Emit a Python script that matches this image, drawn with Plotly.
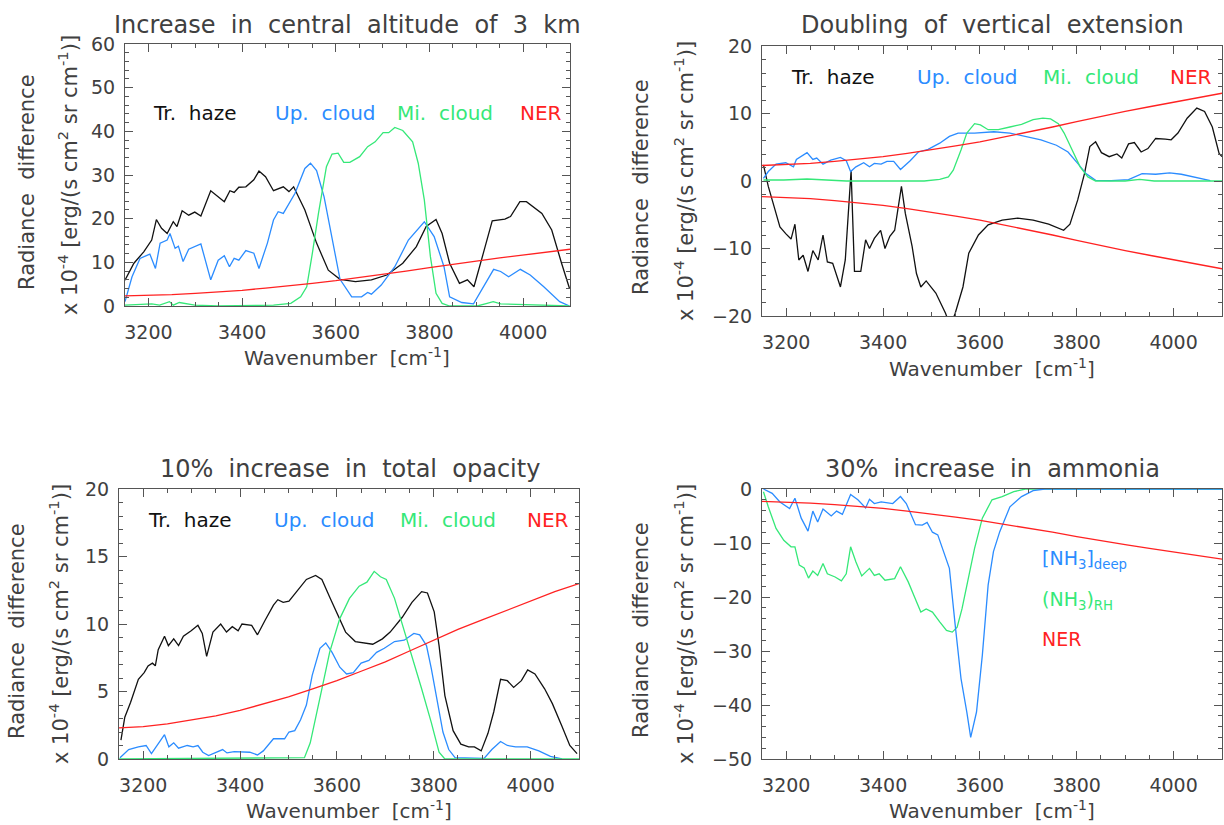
import plotly.graph_objects as go

W, H = 1224, 825
FONT = "DejaVu Sans"
TXT = "#404040"
AX = "#555555"
BLACK = "#111111"
BLUE = "#2b8cff"
GREEN = "#35e878"
RED = "#ff2222"

# ---------------- data ----------------
ner_x = [3150, 3200, 3250, 3300, 3350, 3400, 3450, 3500, 3550, 3600,
         3650, 3700, 3750, 3800, 3850, 3900, 3950, 4000, 4050, 4100]
ner_y = [2.3, 2.4, 2.6, 2.9, 3.2, 3.6, 4.1, 4.6, 5.2, 5.8,
         6.5, 7.2, 8.0, 8.8, 9.6, 10.3, 11.0, 11.7, 12.4, 13.0]

# Panel 1: increase in central altitude of 3 km
p1_haze = [[3150, 5.9], [3169, 9.8], [3190, 12.4], [3207, 15.1], [3217, 19.8], [3228, 17.8],
           [3240, 16.6], [3253, 19.3], [3261, 18.2], [3272, 21.8], [3286, 20.8], [3299, 21.5],
           [3312, 20.6], [3333, 26.4], [3362, 23.9], [3374, 26.4], [3383, 26.0], [3393, 27.2],
           [3408, 27.3], [3425, 28.9], [3436, 30.9], [3450, 29.6], [3467, 26.4], [3488, 27.3],
           [3500, 26.2], [3510, 27.3], [3534, 22.0], [3559, 14.4], [3584, 8.2], [3609, 6.1],
           [3642, 5.6], [3676, 6.0], [3709, 7.1], [3743, 9.8], [3772, 13.6], [3793, 18.2],
           [3814, 19.8], [3827, 16.6], [3843, 9.8], [3864, 5.2], [3881, 6.0], [3895, 4.4],
           [3915, 12.1], [3934, 19.5], [3961, 19.9], [3973, 20.5], [3993, 23.9], [4007, 23.9],
           [4040, 21.2], [4061, 17.4], [4082, 9.8], [4099, 4.0]]
p1_up = [[3150, 1.0], [3165, 6.7], [3182, 10.9], [3203, 11.9], [3215, 8.6], [3225, 14.4],
         [3240, 15.1], [3246, 16.6], [3257, 13.2], [3264, 13.7], [3274, 10.2], [3286, 13.0],
         [3312, 14.2], [3333, 6.0], [3349, 10.5], [3362, 11.5], [3373, 9.0], [3383, 10.9],
         [3393, 10.5], [3408, 12.7], [3425, 12.1], [3436, 8.6], [3454, 14.4], [3467, 19.7],
         [3477, 21.6], [3488, 21.2], [3513, 25.8], [3534, 31.5], [3546, 32.7], [3559, 31.0],
         [3575, 25.0], [3592, 15.1], [3609, 6.1], [3634, 2.1], [3655, 2.1], [3668, 3.1],
         [3676, 2.7], [3697, 4.8], [3726, 9.0], [3755, 15.1], [3789, 19.3], [3810, 15.9],
         [3831, 9.0], [3843, 2.1], [3869, 0.8], [3894, 0.5], [3915, 4.4], [3937, 8.4],
         [3952, 7.9], [3969, 6.7], [3994, 8.4], [4015, 7.1], [4044, 4.4], [4078, 1.0], [4099, 0.0]]
p1_mid = [[3150, 0.2], [3207, 0.5], [3224, 0.2], [3245, 1.0], [3253, 0.2], [3266, 0.8],
          [3299, 0.2], [3349, 0.0], [3467, 0.2], [3504, 0.6], [3525, 2.1], [3538, 4.4],
          [3550, 12.1], [3563, 21.2], [3580, 31.9], [3592, 34.8], [3605, 35.0], [3617, 32.9],
          [3630, 32.9], [3651, 34.2], [3668, 36.5], [3684, 37.6], [3701, 39.7], [3713, 39.7],
          [3726, 40.9], [3743, 40.2], [3764, 37.6], [3776, 32.7], [3789, 24.3], [3802, 11.3],
          [3814, 2.9], [3827, 0.6], [3843, 0.0], [3902, 0.0], [3923, 0.6], [3936, 1.0],
          [3952, 0.5], [4099, 0.0]]

# Panel 2: doubling of vertical extension
p2_haze = [[3153, 2.4], [3163, -0.8], [3175, -3.8], [3187, -6.8], [3199, -7.8], [3210, -8.6],
           [3218, -6.4], [3226, -11.7], [3235, -11.0], [3245, -13.4], [3255, -10.3], [3266, -11.7],
           [3276, -8.0], [3285, -12.0], [3296, -12.2], [3312, -15.7], [3322, -11.7], [3330, -2.0],
           [3334, 1.5], [3341, -13.4], [3354, -13.4], [3364, -8.7], [3372, -10.0], [3382, -8.5],
           [3395, -7.3], [3404, -10.0], [3414, -8.2], [3424, -7.3], [3435, -2.3], [3438, -0.8],
           [3446, -4.8], [3460, -9.7], [3469, -13.7], [3478, -15.7], [3489, -14.8], [3509, -16.6],
           [3529, -19.6], [3539, -21.5], [3549, -19.6], [3565, -15.7], [3577, -10.7], [3597, -8.0],
           [3617, -6.5], [3646, -5.8], [3678, -5.5], [3710, -5.8], [3742, -6.4], [3773, -7.3],
           [3786, -6.4], [3802, -2.8], [3816, 1.1], [3827, 5.1], [3839, 5.8], [3851, 4.2],
           [3867, 3.6], [3883, 4.0], [3893, 3.4], [3907, 5.5], [3919, 5.7], [3933, 4.3],
           [3947, 4.8], [3963, 6.3], [3983, 6.2], [3995, 6.1], [4009, 7.1], [4028, 9.3],
           [4048, 10.8], [4064, 10.3], [4080, 8.0], [4094, 4.1], [4100, 3.6]]
p2_up = [[3153, 0.4], [3163, 1.4], [3179, 2.5], [3199, 2.7], [3215, 2.1], [3221, 3.2],
         [3243, 4.2], [3255, 3.2], [3263, 3.4], [3276, 2.5], [3292, 3.1], [3312, 3.5],
         [3324, 3.0], [3333, 1.4], [3344, 2.1], [3360, 2.7], [3372, 2.1], [3382, 2.6],
         [3396, 2.5], [3408, 2.9], [3422, 2.9], [3436, 1.7], [3456, 3.0], [3473, 4.3],
         [3493, 4.7], [3517, 5.6], [3537, 6.6], [3555, 7.1], [3589, 7.1], [3629, 7.3],
         [3662, 7.1], [3694, 6.6], [3726, 6.1], [3758, 5.3], [3782, 4.3], [3802, 2.6],
         [3819, 1.1], [3839, 0.1], [3871, 0.05], [3907, 0.2], [3935, 1.1], [3963, 1.0],
         [3992, 1.2], [4016, 1.0], [4048, 0.5], [4076, 0.05]]
p2_mid = [[3153, 0.15], [3195, 0.15], [3243, 0.3], [3276, 0.15], [3324, 0.0], [3485, 0.0],
          [3517, 0.25], [3535, 0.6], [3545, 1.6], [3561, 4.6], [3573, 7.1], [3589, 8.5],
          [3601, 8.3], [3617, 7.6], [3638, 7.6], [3662, 8.0], [3686, 8.4], [3710, 9.1],
          [3730, 9.3], [3746, 9.2], [3762, 8.5], [3774, 7.1], [3790, 4.6], [3807, 2.1],
          [3823, 0.6], [3839, 0.0], [3900, 0.0], [3930, 0.25], [3960, 0.0], [4100, 0.0]]

# Panel 3: 10% increase in total opacity
p3_haze = [[3154, 1.4], [3162, 3.1], [3174, 4.2], [3190, 5.9], [3202, 6.4], [3210, 6.9],
           [3219, 7.1], [3225, 6.9], [3231, 8.1], [3244, 9.1], [3252, 8.4], [3263, 8.9],
           [3273, 8.4], [3283, 9.1], [3299, 9.5], [3313, 9.9], [3322, 9.3], [3331, 7.6],
           [3344, 9.4], [3360, 10.0], [3372, 9.4], [3384, 9.8], [3396, 9.5], [3404, 10.0],
           [3424, 9.9], [3436, 9.2], [3452, 10.3], [3469, 11.4], [3478, 11.8], [3489, 11.6],
           [3501, 11.7], [3517, 12.4], [3537, 13.3], [3556, 13.6], [3569, 13.3], [3585, 12.0],
           [3602, 10.7], [3618, 9.4], [3638, 8.7], [3654, 8.6], [3674, 8.5], [3694, 8.9],
           [3710, 9.4], [3735, 10.5], [3755, 11.6], [3775, 12.4], [3787, 12.3], [3801, 10.9],
           [3811, 8.4], [3823, 4.7], [3840, 2.1], [3856, 1.1], [3872, 0.9], [3884, 0.9],
           [3898, 0.6], [3912, 1.9], [3924, 3.5], [3938, 5.9], [3952, 5.8], [3965, 5.3],
           [3981, 5.8], [3994, 6.6], [4009, 6.3], [4029, 5.2], [4045, 4.1], [4065, 2.4],
           [4081, 1.0], [4096, 0.4]]
p3_up = [[3152, 0.1], [3170, 0.7], [3190, 0.9], [3206, 1.0], [3217, 0.4], [3231, 1.1],
         [3244, 1.8], [3253, 0.9], [3263, 1.2], [3273, 0.8], [3291, 1.0], [3303, 0.9],
         [3313, 1.0], [3323, 0.5], [3335, 0.25], [3364, 0.7], [3373, 0.45], [3388, 0.55],
         [3420, 0.5], [3436, 0.3], [3448, 0.6], [3469, 1.5], [3492, 1.5], [3501, 2.0],
         [3513, 2.1], [3525, 2.9], [3537, 4.0], [3549, 6.2], [3565, 8.2], [3577, 8.6],
         [3590, 7.9], [3606, 6.8], [3620, 6.3], [3634, 6.4], [3650, 7.1], [3666, 7.3],
         [3682, 7.9], [3698, 8.2], [3719, 8.7], [3739, 8.8], [3759, 9.3], [3771, 9.2],
         [3785, 8.4], [3795, 6.7], [3807, 4.2], [3819, 2.0], [3831, 0.7], [3844, 0.1],
         [3904, 0.05], [3920, 0.7], [3938, 1.3], [3952, 1.0], [3969, 0.9], [3993, 0.9],
         [4017, 0.6], [4041, 0.2], [4065, 0.0]]
p3_mid = [[3150, 0.0], [3533, 0.1], [3545, 1.2], [3557, 3.1], [3569, 5.2], [3585, 7.9],
          [3606, 10.4], [3626, 11.9], [3646, 12.8], [3662, 13.1], [3677, 13.9], [3690, 13.5],
          [3702, 13.3], [3719, 11.9], [3735, 10.0], [3755, 7.7], [3775, 5.2], [3795, 2.7],
          [3811, 0.5], [3823, 0.0], [4100, 0.0]]

# Panel 4: 30% increase in ammonia
p4_deep = [[3153, 0.0], [3171, -0.8], [3187, -2.4], [3207, -3.6], [3218, -1.7], [3231, -5.4],
           [3245, -7.8], [3255, -4.1], [3265, -6.1], [3276, -3.7], [3293, -5.0], [3304, -4.1],
           [3316, -4.7], [3333, -1.0], [3348, -2.0], [3364, -3.5], [3372, -1.9], [3382, -2.7],
           [3396, -2.4], [3420, -2.7], [3436, -1.4], [3448, -2.7], [3467, -6.6], [3481, -6.7],
           [3491, -6.2], [3502, -8.0], [3513, -8.5], [3525, -11.6], [3537, -14.7], [3549, -25.2],
           [3561, -35.1], [3573, -41.3], [3581, -46.0], [3593, -41.3], [3605, -30.8], [3617, -17.8],
           [3628, -11.6], [3641, -7.9], [3662, -3.3], [3686, -1.4], [3710, -0.3], [3734, 0.0],
           [4100, 0.0]]
p4_rh = [[3153, -0.5], [3163, -3.3], [3179, -7.3], [3195, -9.5], [3210, -10.7], [3218, -10.7],
         [3227, -14.1], [3237, -14.6], [3246, -16.5], [3255, -15.2], [3265, -16.0], [3276, -13.8],
         [3285, -15.7], [3301, -16.3], [3314, -17.0], [3324, -15.7], [3333, -10.7], [3344, -13.5],
         [3356, -16.1], [3372, -14.7], [3382, -16.0], [3392, -15.7], [3404, -16.9], [3424, -16.6],
         [3436, -14.4], [3452, -17.2], [3465, -20.0], [3478, -22.8], [3489, -22.2], [3502, -22.8],
         [3517, -24.6], [3531, -26.2], [3543, -26.5], [3553, -25.6], [3563, -22.2], [3575, -17.2],
         [3589, -11.0], [3605, -5.4], [3625, -2.0], [3646, -1.4], [3670, -0.5], [3694, 0.0],
         [4100, 0.0]]

x_ticks = [3200, 3400, 3600, 3800, 4000]
legend_labels = ["Tr. haze", "Up. cloud", "Mi. cloud", "NER"]
legend_x = [3205, 3466, 3727, 3989]

# ---------------- figure ----------------
fig = go.Figure()


def xs(pairs):
    return [p[0] for p in pairs]


def ys(pairs):
    return [p[1] for p in pairs]


def add_line(pairs_x, pairs_y, color, k):
    suffix = "" if k == 1 else str(k)
    fig.add_trace(go.Scatter(x=pairs_x, y=pairs_y, mode="lines",
                             line=dict(color=color, width=1.3),
                             xaxis="x" + suffix, yaxis="y" + suffix,
                             showlegend=False, hoverinfo="skip"))


neg_ner = [-v for v in ner_y]

# panel 1
add_line(xs(p1_haze), ys(p1_haze), BLACK, 1)
add_line(xs(p1_up), ys(p1_up), BLUE, 1)
add_line(xs(p1_mid), ys(p1_mid), GREEN, 1)
add_line(ner_x, ner_y, RED, 1)
# panel 2
add_line(xs(p2_haze), ys(p2_haze), BLACK, 2)
add_line(xs(p2_up), ys(p2_up), BLUE, 2)
add_line(xs(p2_mid), ys(p2_mid), GREEN, 2)
add_line(ner_x, ner_y, RED, 2)
add_line(ner_x, neg_ner, RED, 2)
# panel 3
add_line(xs(p3_haze), ys(p3_haze), BLACK, 3)
add_line(xs(p3_up), ys(p3_up), BLUE, 3)
add_line(xs(p3_mid), ys(p3_mid), GREEN, 3)
add_line(ner_x, ner_y, RED, 3)
# panel 4
add_line(xs(p4_rh), ys(p4_rh), GREEN, 4)
add_line(xs(p4_deep), ys(p4_deep), BLUE, 4)
add_line(ner_x, neg_ner, RED, 4)

# panel geometry in pixels: (left, right, top, bottom)
boxes = {1: (125, 570, 44, 306), 2: (762, 1222, 46, 316),
         3: (119, 579, 489, 759), 4: (762, 1222, 489, 759)}
yranges = {1: (0, 60), 2: (-20, 20), 3: (0, 20), 4: (-50, 0)}
ydticks = {1: (10, 2), 2: (10, 2), 3: (5, 1), 4: (10, 2)}

layout_axes = {}
for k, (l, r, t, b) in boxes.items():
    suffix = "" if k == 1 else str(k)
    layout_axes["xaxis" + suffix] = dict(
        domain=[l / W, r / W], anchor="y" + suffix, range=[3150, 4100], automargin=False,
        tickmode="array", tickvals=x_ticks, ticks="inside", ticklen=8, tickwidth=1,
        tickcolor=AX, showline=True, linecolor=AX, linewidth=1, mirror="allticks",
        showgrid=False, zeroline=False, ticklabelstandoff=9, fixedrange=True,
        tickfont=dict(family=FONT, size=19, color=TXT),
        minor=dict(dtick=50, tick0=3150, ticks="inside", ticklen=4, tickcolor=AX, showgrid=False))
    d, m = ydticks[k]
    layout_axes["yaxis" + suffix] = dict(
        domain=[1 - b / H, 1 - t / H], anchor="x" + suffix, range=list(yranges[k]),
        automargin=False, fixedrange=True,
        tick0=0, dtick=d, ticks="inside", ticklen=8, tickwidth=1,
        tickcolor=AX, showline=True, linecolor=AX, linewidth=1, mirror="allticks",
        showgrid=False, zeroline=False, ticklabelstandoff=5,
        tickfont=dict(family=FONT, size=19, color=TXT),
        minor=dict(dtick=m, tick0=0, ticks="inside", ticklen=4, tickcolor=AX, showgrid=False))

ann = []
NB = "\u00a0"


def pann(text, x, y, size, angle=0, color=TXT):
    ann.append(dict(text=text, x=x / W, y=1 - y / H, xref="paper", yref="paper",
                    showarrow=False, textangle=angle, xanchor="center", yanchor="middle",
                    font=dict(family=FONT, size=size, color=color)))


titles = ["Increase in central altitude of 3 km", "Doubling of vertical extension",
          "10% increase in total opacity", "30% increase in ammonia"]
title_pos = [(347, 25), (992, 25), (350, 469), (992, 469)]
for t, (x, y) in zip(titles, title_pos):
    pann(t.replace(" ", " " + NB), x, y, 24)

xlab_pos = [(347, 357), (992, 368), (349, 810), (992, 810)]
for (x, y) in xlab_pos:
    pann("Wavenumber" + NB + " [cm<sup>-1</sup>]", x, y, 20)

ylab1_pos = [(27, 182), (641, 187), (17, 631), (641, 630)]
ylab2_pos = [(68, 175), (684, 181), (59, 624), (684, 624)]
for (x, y) in ylab1_pos:
    pann("Radiance" + NB + " difference", x, y, 21, -90)
for (x, y) in ylab2_pos:
    pann("x 10<sup>-4</sup> [erg/(s cm<sup>2</sup> sr cm<sup>-1</sup>)]", x, y, 21, -90)

legend_colors = [BLACK, BLUE, GREEN, RED]
legend_y = {1: 44.2, 2: 15.4, 3: 17.7}
for k, yv in legend_y.items():
    suffix = "" if k == 1 else str(k)
    for lab, lx, col in zip(legend_labels, legend_x, legend_colors):
        ann.append(dict(text=lab.replace(" ", " " + NB), x=lx, y=yv,
                        xref="x" + suffix, yref="y" + suffix,
                        showarrow=False, xanchor="left", yanchor="middle",
                        font=dict(family=FONT, size=20, color=col)))

p4_labels = ["[NH<sub>3</sub>]<sub>deep</sub>", "(NH<sub>3</sub>)<sub>RH</sub>", "NER"]
p4_label_y = [-13.1, -20.6, -27.8]
for lab, yv, col in zip(p4_labels, p4_label_y, [BLUE, GREEN, RED]):
    ann.append(dict(text=lab, x=3725, y=yv, xref="x4", yref="y4", showarrow=False,
                    xanchor="left", yanchor="middle",
                    font=dict(family=FONT, size=19, color=col)))

fig.update_layout(width=W, height=H, margin=dict(l=0, r=0, t=0, b=0, autoexpand=False),
                  paper_bgcolor="white", plot_bgcolor="white", hovermode=False,
                  annotations=ann, showlegend=False, **layout_axes)

fig.write_html("out.html", config={"displayModeBar": False, "staticPlot": True},
               post_script="document.body.style.margin='0';document.body.style.overflow='hidden';")
